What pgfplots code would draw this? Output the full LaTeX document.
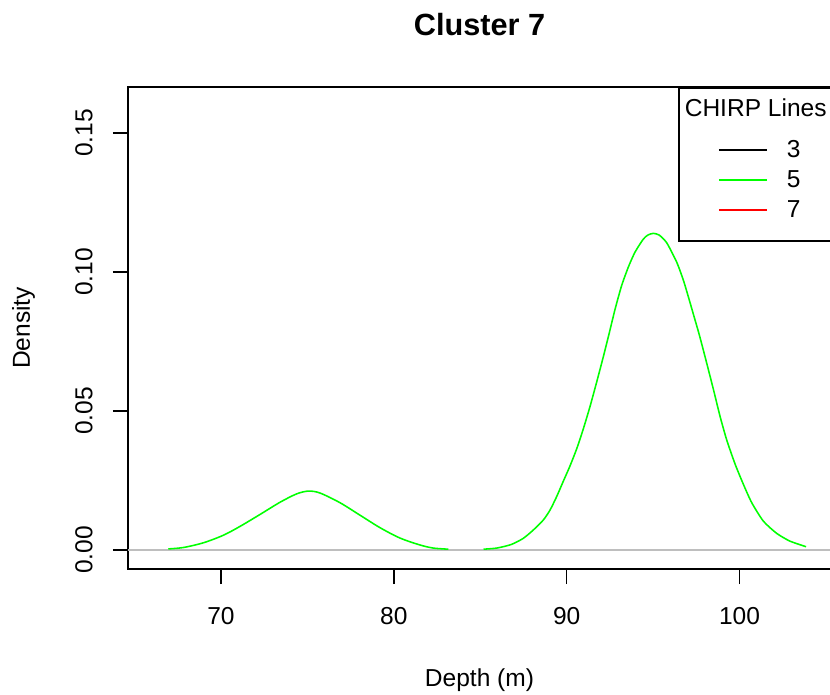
\documentclass[border=0pt]{standalone}
\usepackage{fontspec}
\setmainfont{Liberation Sans}
\usepackage{pgfplots}
\pgfplotsset{compat=1.18}
\definecolor{rgreen}{RGB}{0,255,0}
\definecolor{rred}{RGB}{255,0,0}
\definecolor{rgray}{RGB}{190,190,190}
\newcommand{\fs}{\fontsize{18.4}{22}\selectfont}
\pgfplotsset{
  titleimg/.style={legend image code/.code={\path[draw=none,fill=none] (0pt,-19.5pt) rectangle (81pt,15.75pt);}},
  midimg/.style={legend image code/.code={\draw[##1] (30pt,0pt) -- (66pt,0pt); \path[draw=none,fill=none] (0pt,-11.25pt) rectangle (81pt,11.25pt);}},
  lastimg/.style={legend image code/.code={\draw[##1] (30pt,0pt) -- (66pt,0pt); \path[draw=none,fill=none] (0pt,-23.25pt) rectangle (81pt,11.25pt);}},
}
\begin{document}
\begin{tikzpicture}
\useasboundingbox (0,0) rectangle (622.5pt,520.5pt);
\begin{axis}[
  at={(96pt,93.75pt)}, anchor=south west,
  scale only axis, width=527.25pt, height=361.5pt,
  xmin=64.619, xmax=105.295, ymin=-0.00683, ymax=0.16655,
  axis line style={line width=1.17pt, black},
  tick style={line width=1.17pt, black},
  tick align=outside, major tick length=11.25pt,
  xtick pos=bottom, ytick pos=left,
  xtick={70,80,90,100}, ytick={0,0.05,0.1,0.15},
  yticklabel style={/pgf/number format/fixed, /pgf/number format/fixed zerofill, /pgf/number format/precision=2, rotate=90, anchor=base, inner sep=0pt},
  xticklabel style={anchor=base, inner sep=0pt},
  /pgf/number format/assume math mode=true,
  tick label style={font=\fs},
  xticklabel shift=30pt, yticklabel shift=15.4pt,
  xlabel={Depth (m)}, ylabel={Density},
  label style={font=\fs},
  xlabel style={at={(axis description cs:0.5,0)}, anchor=base, yshift=-87.75pt, inner sep=0pt},
  ylabel style={at={(axis description cs:0,0.5)}, anchor=base, yshift=73.5pt, inner sep=0pt},
  title={Cluster 7},
  title style={font=\bfseries\fontsize{23}{27}\selectfont, at={(axis description cs:0.5,1)}, anchor=base, yshift=33pt, inner sep=0pt},
  legend style={at={(axis description cs:0.7824,1)}, anchor=north west, draw=black, line width=1.17pt, fill=white,
    inner xsep=0pt, inner ysep=0pt, row sep=0pt, column sep=0pt, font=\fs, nodes={inner sep=0pt}, cells={anchor=west}},
  legend cell align=left,
]
\addlegendimage{titleimg}
\addlegendentry{\hspace*{-76.5pt}CHIRP Lines\hspace*{6pt}}
\addlegendimage{black, line width=1.17pt, midimg}
\addlegendentry{3}
\addlegendimage{rgreen, line width=1.17pt, midimg}
\addlegendentry{5}
\addlegendimage{rred, line width=1.17pt, lastimg}
\addlegendentry{7}

\addplot[rgray, line width=1.17pt, forget plot] coordinates {(64.619,0) (105.295,0)};

\addplot[rgreen, line width=1.17pt, smooth, tension=0.5, forget plot] coordinates {
(66.95,0.0004) (67.82,0.0009) (68.98,0.0026) (70.13,0.0053) (71.10,0.0085)
(72.26,0.0128) (73.42,0.0172) (74.38,0.0202) (75.06,0.0212) (75.73,0.0205)
(76.89,0.0170) (78.05,0.0125) (79.21,0.0080) (80.36,0.0043) (81.52,0.0018)
(82.29,0.0007) (83.16,0.0003)
};
\addplot[rgreen, line width=1.17pt, smooth, tension=0.4, forget plot] coordinates {
(85.19,0.0003) (85.96,0.0007) (86.80,0.0020) (87.49,0.0042) (88.07,0.0072)
(88.65,0.0108) (89.04,0.0144) (89.42,0.0192) (89.81,0.0248) (90.19,0.0302)
(90.58,0.0364) (90.96,0.0435) (91.35,0.0516) (91.74,0.0605) (92.12,0.0695)
(92.47,0.0782) (92.80,0.0866) (93.18,0.0951) (93.57,0.1018) (93.95,0.1071)
(94.43,0.1118) (94.70,0.1133) (95.01,0.1139) (95.35,0.1133) (95.79,0.1105)
(96.37,0.1035) (96.75,0.0971) (97.04,0.0911) (97.43,0.0827) (97.67,0.0775)
(98.00,0.0697) (98.49,0.0578) (98.87,0.0482) (99.26,0.0396) (99.74,0.0310)
(100.22,0.0237) (100.71,0.0170) (101.38,0.0104) (102.15,0.0060) (102.92,0.0032)
(103.85,0.0012)
};
\end{axis}
\end{tikzpicture}
\end{document}
